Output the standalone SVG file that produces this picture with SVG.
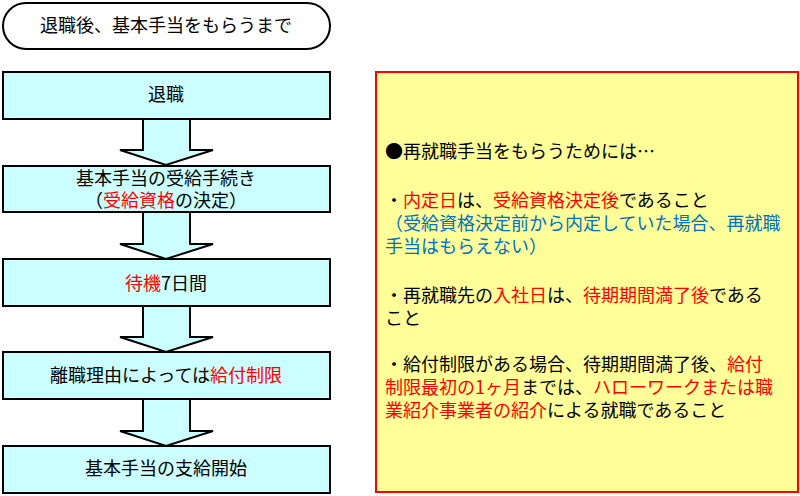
<svg xmlns="http://www.w3.org/2000/svg" width="800" height="496" viewBox="0 0 800 496">
<style>
text{font-family:"Noto Sans CJK JP","Liberation Sans",sans-serif;font-size:18px;fill:#000}
.box{fill:#CCFFFF;stroke:#000;stroke-width:2}
.arr{fill:#CCFFFF;stroke:#000;stroke-width:2;stroke-linejoin:miter}
.r{fill:#FF0000}
.b{fill:#0070C0}
.c{text-anchor:middle}
</style>
<rect width="800" height="496" fill="#fff"/>
<g id="title">
<rect x="3" y="3" width="327" height="46" rx="23" fill="#fff" stroke="#000" stroke-width="2"/>
<text class="c" x="166" y="32">退職後、基本手当をもらうまで</text>
</g>
<g id="connectors">
<polygon class="arr" points="143,119 190,119 190,150 213,150 166,165 120,150 143,150"/>
<polygon class="arr" points="143,212 190,212 190,244 213,244 166,259 120,244 143,244"/>
<polygon class="arr" points="143,306 190,306 190,337 213,337 166,352 120,337 143,337"/>
<polygon class="arr" points="143,399 190,399 190,431 213,431 166,446 120,431 143,431"/>
</g>
<g id="n1">
<rect class="box" x="3" y="72" width="327" height="47"/>
<text class="c" x="166" y="101">退職</text>
</g>
<g id="n2">
<rect class="box" x="3" y="166" width="327" height="46"/>
<text class="c" x="166" y="185">基本手当の受給手続き</text>
<text class="c" x="166" y="207">（<tspan class="r">受給資格</tspan>の決定）</text>
</g>
<g id="n3">
<rect class="box" x="3" y="259" width="327" height="47"/>
<text class="c" x="166" y="290"><tspan class="r">待機</tspan>7日間</text>
</g>
<g id="n4">
<rect class="box" x="3" y="352" width="327" height="47"/>
<text class="c" x="166" y="382">離職理由によっては<tspan class="r">給付制限</tspan></text>
</g>
<g id="n5">
<rect class="box" x="3" y="446" width="327" height="47"/>
<text class="c" x="166" y="475">基本手当の支給開始</text>
</g>
<g id="note">
<rect x="376" y="72" width="422" height="420" fill="#FFFF99" stroke="#FF0000" stroke-width="2"/>
<text x="385" y="158">●再就職手当をもらうためには…</text>
<text x="385" y="207">・<tspan class="r">内定日</tspan>は、<tspan class="r">受給資格決定後</tspan>であること</text>
<text x="385" y="230" class="b">（受給資格決定前から内定していた場合、再就職</text>
<text x="385" y="253" class="b">手当はもらえない）</text>
<text x="385" y="302">・再就職先の<tspan class="r">入社日</tspan>は、<tspan class="r">待期期間満了後</tspan>である</text>
<text x="385" y="325">こと</text>
<text x="385" y="371">・給付制限がある場合、待期期間満了後、<tspan class="r">給付</tspan></text>
<text x="385" y="394"><tspan class="r">制限最初の1ヶ月</tspan>までは、<tspan class="r">ハローワークまたは職</tspan></text>
<text x="385" y="417"><tspan class="r">業紹介事業者の紹介</tspan>による就職であること</text>
</g>
</svg>
